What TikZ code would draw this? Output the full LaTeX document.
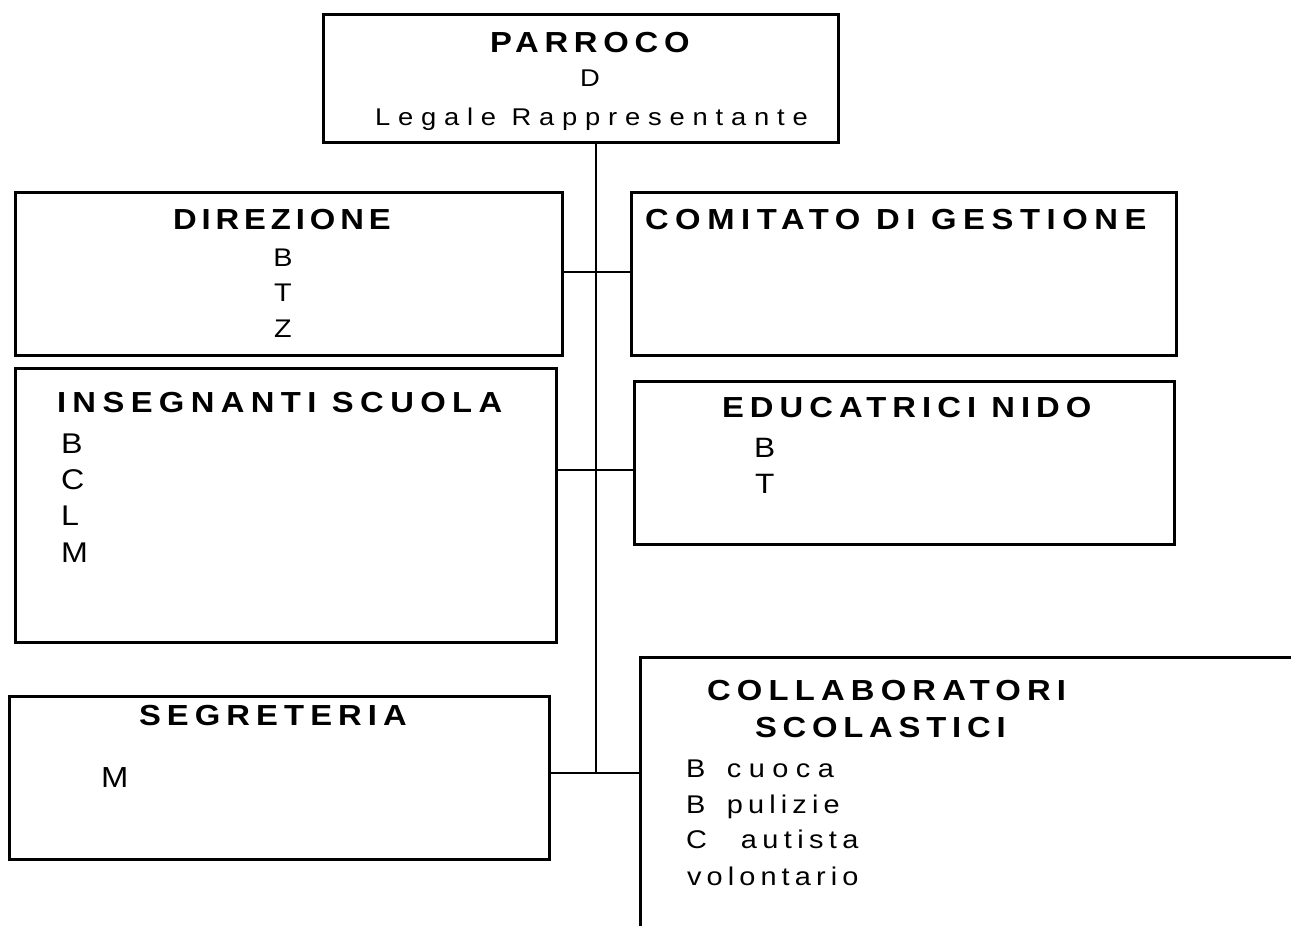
\documentclass[tikz,border=0pt]{standalone}
\usepackage{fontspec}
\setmainfont{Liberation Sans}[FakeStretch=1.13]
\newcommand\Lsp[2]{{\addfontfeature{LetterSpace=#1}#2}}
\newcommand\TitleFont{\fontsize{29}{29}\selectfont\bfseries}
\newcommand\BodyFont[1]{\fontsize{#1}{#1}\selectfont}
\begin{document}
\begin{tikzpicture}[x=1pt,y=-1pt,
  box/.style={draw, line width=3pt, rectangle, inner sep=0pt, outer sep=0pt},
  conn/.style={draw, line width=2.8pt},
  txt/.style={anchor=base west, inner sep=0pt, outer sep=0pt},
  txtc/.style={anchor=base, inner sep=0pt, outer sep=0pt}]
\useasboundingbox (0,0) rectangle (1291,926);
\fill[white] (0,0) rectangle (1291,926);
\clip (0,0) rectangle (1291,926);
% boxes
\node[box, minimum width=515pt, minimum height=128pt] (parroco) at (580.5,78) {};
\node[box, minimum width=547pt, minimum height=163pt] (direzione) at (288.5,273.5) {};
\node[box, minimum width=545pt, minimum height=163pt] (comitato) at (903.5,273.5) {};
\node[box, minimum width=541pt, minimum height=274pt] (insegnanti) at (285.5,505) {};
\node[box, minimum width=540pt, minimum height=163pt] (educatrici) at (904,462.5) {};
\node[box, minimum width=540pt, minimum height=163pt] (segreteria) at (279,777.5) {};
\node[box, minimum width=760pt, minimum height=343pt] (collab) at (1020,828.5) {};
% connectors
\coordinate (j1) at (596,272);
\coordinate (j2) at (596,470);
\coordinate (j3) at (596,773);
\draw[conn] (parroco.south -| j1) -- (j3);
\draw[conn] (j1 -| direzione.east) -- (j1 -| comitato.west);
\draw[conn] (j2 -| insegnanti.east) -- (j2 -| educatrici.west);
\draw[conn] (j3 -| segreteria.east) -- (j3 -| collab.west);
% texts
\node[txt] (tparroco) at (490,52) {\TitleFont\Lsp{19.8}{PARROCO}};
\node[txt] (td) at (580,86) {\BodyFont{24.2}D};
\node[txt] (tlegale) at (375,125) {\BodyFont{24.2}\Lsp{32.3}{Legale Rappresentante}};
\node[txt] (tdir) at (173,229) {\TitleFont\Lsp{17}{DIREZIONE}};
\node[txtc] (tdb) at (283,266) {\BodyFont{25.5}B};
\node[txtc] (tdt) at (283,301.5) {\BodyFont{25.5}T};
\node[txtc] (tdz) at (283,337.5) {\BodyFont{25.5}Z};
\node[txt] (tcom) at (645,229) {\TitleFont\Lsp{22.7}{COMITATO DI GESTIONE}};
\node[txt] (tins) at (57,412) {\TitleFont\Lsp{22}{INSEGNANTI SCUOLA}};
\node[txt] (tib) at (61,453) {\BodyFont{28.5}B};
\node[txt] (tic) at (61,489) {\BodyFont{28.5}C};
\node[txt] (til) at (61,525) {\BodyFont{28.5}L};
\node[txt] (tim) at (61,562) {\BodyFont{28.5}M};
\node[txt] (tedu) at (722,417) {\TitleFont\Lsp{20.9}{EDUCATRICI NIDO}};
\node[txt] (teb) at (754,457) {\BodyFont{28}B};
\node[txt] (tet) at (755,493) {\BodyFont{28}T};
\node[txt] (tseg) at (139,725) {\TitleFont\Lsp{21}{SEGRETERIA}};
\node[txt] (tsm) at (101,787) {\BodyFont{29}M};
\node[txt] (tcol1) at (707,700) {\TitleFont\Lsp{21.4}{COLLABORATORI}};
\node[txt] (tcol2) at (755,737) {\TitleFont\Lsp{20}{SCOLASTICI}};
\node[txt] (tc1) at (686,777) {\BodyFont{25.6}\makebox[41pt][l]{B}\Lsp{29}{cuoca}};
\node[txt] (tc2) at (686,813) {\BodyFont{25.6}\makebox[41pt][l]{B}\Lsp{20}{pulizie}};
\node[txt] (tc3) at (686,848) {\BodyFont{25.6}\makebox[55pt][l]{C}\Lsp{21}{autista}};
\node[txt] (tc4) at (687,885) {\BodyFont{25.6}\Lsp{20}{volontario}};
\end{tikzpicture}
\end{document}
